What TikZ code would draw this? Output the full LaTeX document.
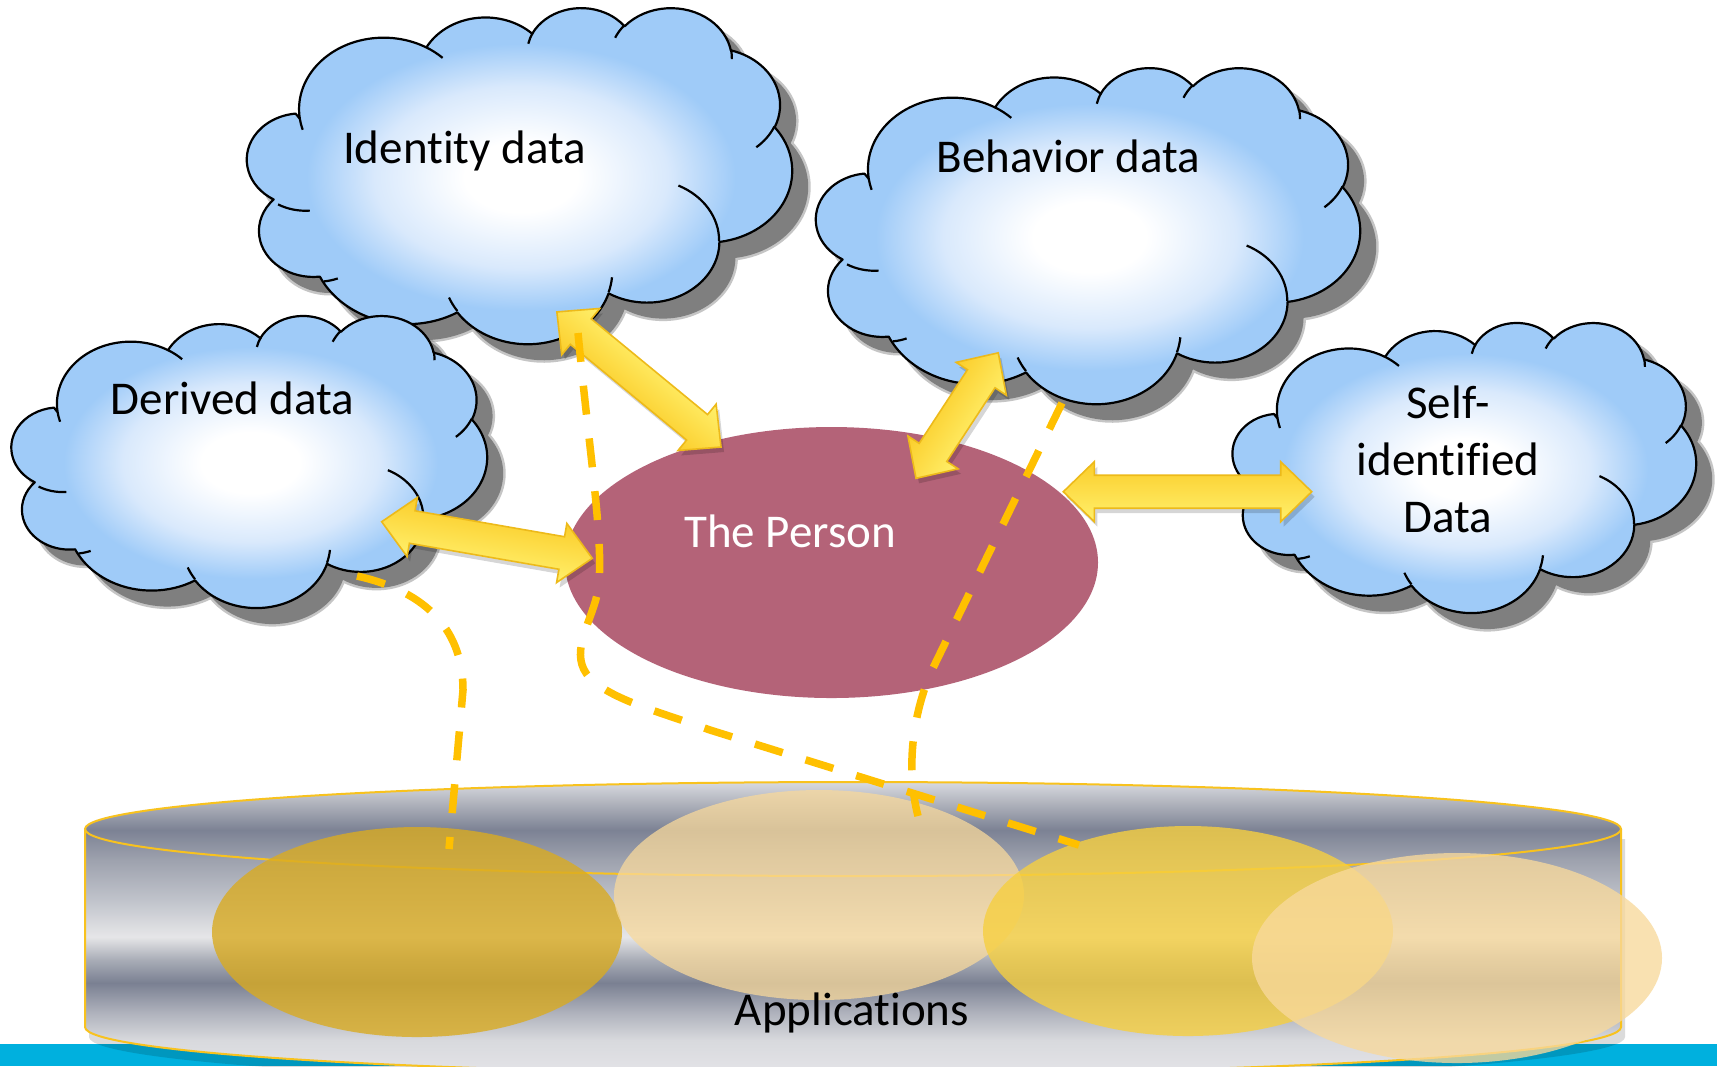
\documentclass[tikz,border=0pt]{standalone}
\usepackage{fontspec}
\setmainfont{Carlito}[Ligatures={NoCommon}]
\usetikzlibrary{calc,shapes.geometric}

% ---------- colours ----------
\definecolor{cloudblue}{HTML}{9FCBF8}
\definecolor{cloudmid}{HTML}{D9E9FC}
\definecolor{cloudshadow}{HTML}{7F7F7F}
\definecolor{personred}{HTML}{B46378}
\definecolor{linkgold}{HTML}{FFC000}
\definecolor{arrowdark}{HTML}{FBCD2A}
\definecolor{arrowlight}{HTML}{FFF06C}
\definecolor{arrowrim}{HTML}{EDBA1A}
\definecolor{barblue}{HTML}{00B0DE}
\definecolor{rimgold}{HTML}{F8C21E}
\definecolor{appgold}{HTML}{D9AB22}
\definecolor{apppeach}{HTML}{F8D99C}
\definecolor{appyellow}{HTML}{F6CF40}
% metal bands of the drum, bottom to top
\definecolor{mA}{HTML}{E4E4E8}
\definecolor{mB}{HTML}{D8D9DD}
\definecolor{mC}{HTML}{B0B3BD}
\definecolor{mD}{HTML}{7A8092}
\definecolor{mE}{HTML}{A8ACB6}
\definecolor{mF}{HTML}{E6E6E8}
\definecolor{mG}{HTML}{C0C3CB}
\definecolor{mH}{HTML}{9EA2AE}
\definecolor{mI}{HTML}{7C8294}
\definecolor{mJ}{HTML}{B0B3BC}
\definecolor{mK}{HTML}{D8DAE0}

\pgfdeclareradialshading{cloudfill}{\pgfpoint{0bp}{0bp}}{%
  color(0bp)=(white); color(5bp)=(white); color(13bp)=(cloudmid);
  color(19bp)=(cloudblue); color(50bp)=(cloudblue)}
\pgfdeclareverticalshading{metal}{100bp}{%
  color(0bp)=(mA); color(25bp)=(mA); color(30.8bp)=(mB); color(35.4bp)=(mC);
  color(40.6bp)=(mD); color(44.5bp)=(mE); color(48.5bp)=(mF); color(54.8bp)=(mG);
  color(61.6bp)=(mH); color(66.8bp)=(mI); color(71.4bp)=(mJ); color(75bp)=(mK);
  color(100bp)=(mK)}

% ---------- cloud outline (432 x 432 frame, y downwards) ----------
% elliptic arc whose angles are given as visual angles
\newcommand\cloudarc[4]{arc[x radius=#1, y radius=#2,
  start angle={vpar(#3,#1,#2)}, end angle={vpar(#3+#4,#1,#2)}]}
\newcommand\cloudrim{(39.00,143.70)
  \cloudarc{67.53}{91.90}{-190.48748}{123.78053}
  \cloudarc{53.33}{72.67}{-144.10238}{89.94523}
  \cloudarc{43.65}{59.45}{-145.80792}{99.72302}
  \cloudarc{48.57}{65.95}{-130.98607}{117.24173}
  \cloudarc{53.33}{72.73}{-78.70888}{109.02692}
  \cloudarc{67.75}{92.20}{-46.26725}{130.26900}
  \cloudarc{57.85}{78.67}{0.62502}{114.03333}
  \cloudarc{67.52}{92.15}{22.45160}{115.17255}
  \cloudarc{77.20}{105.43}{66.24263}{81.38127}
  \cloudarc{43.60}{59.18}{-274.94208}{146.73557}
  \cloudarc{43.45}{59.45}{-246.82850}{152.51885}
  -- cycle}
\newcommand\cloudseams{%
  (46.93,261.77) \cloudarc{43.45}{59.45}{86.7420}{26.4295}
  (69.28,348.99) \cloudarc{43.60}{59.18}{73.6105}{11.4475}
  (164.78,390.90) \cloudarc{67.52}{92.15}{137.6242}{14.0811}
  (288.27,347.51) \cloudarc{67.52}{92.15}{6.4533}{15.9984}
  (341.29,229.54) \cloudarc{57.85}{78.67}{-70.2924}{70.9174}
  (417.98,153.54) \cloudarc{53.33}{72.73}{30.3180}{27.7515}
  (383.24,54.26) \cloudarc{48.57}{65.95}{-13.7443}{14.8589}
  (290.78,39.52) \cloudarc{48.57}{65.95}{-149.1815}{18.1954}
  (221.41,47.20) \cloudarc{43.65}{59.45}{-163.4943}{17.6864}
  (140.00,51.92) \cloudarc{67.53}{91.90}{-66.7070}{12.3194}
  (41.27,157.89) \cloudarc{67.53}{91.90}{157.6544}{11.8582}}

% cloud with soft drop shadow: left, top, width, height
\newcommand\drawcloud[4]{%
  \begin{scope}[shift={({#1+16},{#2+16})}, x={({#3/432},0)}, y={(0,{#4/432})}]
    \fill[cloudshadow, draw=cloudshadow, line width=0.5mm, draw opacity=.45] \cloudrim;
  \end{scope}
  \begin{scope}[shift={(#1,#2)}, x={({#3/432},0)}, y={(0,{#4/432})}]
    \shade[shading=cloudfill, cloudline] \cloudrim;
    \draw[cloudline] \cloudseams;
  \end{scope}}

% ---------- double-headed block arrow between two named points ----------
\newcommand\arrowoutline{(0pt,0pt) -- (3.1mm,3mm) -- (3.1mm,1.65mm)
  -- ({\arrlen pt-3.1mm},1.65mm) -- ({\arrlen pt-3.1mm},3mm) -- ({\arrlen pt},0pt)
  -- ({\arrlen pt-3.1mm},-3mm) -- ({\arrlen pt-3.1mm},-1.65mm)
  -- (3.1mm,-1.65mm) -- (3.1mm,-3mm) -- cycle}
\newcommand\blockarrow[2]{%
  \pgfmathanglebetweenpoints{\pgfpointanchor{#1}{center}}{\pgfpointanchor{#2}{center}}%
  \let\arrang\pgfmathresult
  \pgfpointdiff{\pgfpointanchor{#1}{center}}{\pgfpointanchor{#2}{center}}%
  \pgfgetlastxy{\arrdx}{\arrdy}%
  \pgfmathsetmacro\arrlen{veclen(\arrdx,\arrdy)}%
  \begin{scope}[transform canvas={shift={($(#1)+(3,5)$)}, rotate=\arrang}]
    \fill[black, fill opacity=.16] \arrowoutline;
  \end{scope}
  \begin{scope}[transform canvas={shift={(#1)}, rotate=\arrang}]
    \shade[blockarrow] \arrowoutline;
  \end{scope}}

\begin{document}
\begin{tikzpicture}[x=0.1mm, y=-0.1mm,
  declare function={wrapd(\qd)=(\qd)-360*round((\qd)/360);
    vpar(\qa,\qb,\qc)=(\qa)+wrapd(atan2((\qb)*sin(\qa),(\qc)*cos(\qa))-(\qa));},
  cloudline/.style={draw=black, line width=0.22mm, line join=round},
  blockarrow/.style={top color=arrowdark, bottom color=arrowlight,
    draw=arrowrim, line width=0.16mm, line join=miter},
  link/.style={draw=linkgold, line width=0.75mm, dash pattern=on 2.9mm off 2.4mm},
  lbl/.style={font=\fontsize{4.7mm}{5.7mm}\selectfont, inner sep=0pt},
  appellipse/.style={x radius=205, y radius=105}]

\useasboundingbox (0,0) rectangle (1717,1066);
\fill[white] (0,0) rectangle (1717,1066);

% bottom band
\fill[barblue] (0,1044) rectangle (1717,1066);

% ---------- applications drum ----------
\fill[black, fill opacity=.14] (89,839) -- (89,1037)
  arc[start angle=180, end angle=0, x radius=768, y radius=47] -- (1625,839) -- cycle;
\shade[shading=metal] (85,829) -- (85,1027)
  arc[start angle=180, end angle=0, x radius=768, y radius=47]
  -- (1621,829) arc[start angle=0, end angle=-180, x radius=768, y radius=47] -- cycle;
\draw[rimgold, line width=0.2mm] (85,829) -- (85,1027)
  arc[start angle=180, end angle=0, x radius=768, y radius=47] -- (1621,829);
\draw[rimgold, line width=0.2mm] (853,829) ellipse[x radius=768, y radius=47];

\fill[appgold, fill opacity=.80] (417,932) ellipse[appellipse];
\fill[apppeach, fill opacity=.75] (819,895) ellipse[appellipse];
\fill[appyellow, fill opacity=.80] (1188,931) ellipse[appellipse];
\fill[apppeach, fill opacity=.78] (1457,958) ellipse[appellipse];

\node[lbl, anchor=base] (apps) at (852,1025) {Applications};

% ---------- the person ----------
\node[ellipse, fill=personred, minimum width=53.3mm, minimum height=27.1mm,
  inner sep=0pt] (person) at (831.5,562.5) {};
\node[lbl, anchor=base, text=white] (personLabel) at (790,547) {The Person};

% ---------- data clouds ----------
\drawcloud{251}{7}{541}{336}
\node[lbl, anchor=base] (identity) at (464.5,163) {Identity data};
\drawcloud{15}{315}{472}{292}
\node[lbl, anchor=base] (derived) at (232.5,414) {Derived data};
\drawcloud{820}{67}{540}{336}
\node[lbl, anchor=base] (behavior) at (1068.5,172) {Behavior data};
\drawcloud{1236}{322}{460}{290}
\node[lbl, align=center] (selfid) at (1448,459) {Self-\\identified\\Data};

% ---------- arrows between the person and the clouds ----------
\coordinate (idPerson) at (721,447);
\coordinate (idCloud) at (556.6,311.7);
\coordinate (drCloud) at (381.7,521.7);
\coordinate (drPerson) at (592.3,558.3);
\coordinate (bhPerson) at (916,478.3);
\coordinate (bhCloud) at (998.3,352.7);
\coordinate (sfPerson) at (1063.3,491.7);
\coordinate (sfCloud) at (1311.7,491.7);

\blockarrow{idPerson}{idCloud}
\blockarrow{drCloud}{drPerson}
\blockarrow{bhPerson}{bhCloud}
\blockarrow{sfPerson}{sfCloud}

% ---------- dashed feeds into the applications ----------
\coordinate (lkDerived) at (357,576);
\coordinate (lkDerivedApp) at (449,849);
\coordinate (lkIdentity) at (578,333);
\coordinate (lkIdentityApp) at (1079,845);
\coordinate (lkBehavior) at (1062,403);
\coordinate (lkBehaviorApp) at (918,816);

\draw[link] (lkDerived) .. controls (420,590) and (463,625) .. (463,690) -- (lkDerivedApp);
\draw[link] (lkIdentity) .. controls (590,460) and (606,555) .. (597,595)
  .. controls (590,625) and (568,655) .. (590,678)
  .. controls (612,700) and (660,712) .. (710,730) -- (lkIdentityApp);
\draw[link] (lkBehavior) -- (932,670) .. controls (912,715) and (906,770) .. (lkBehaviorApp);
\end{tikzpicture}
\end{document}
